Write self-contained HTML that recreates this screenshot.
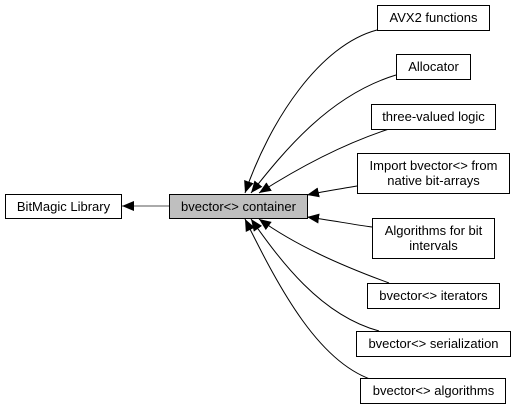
<!DOCTYPE html>
<html><head><meta charset="utf-8"><style>
html,body{margin:0;padding:0;background:#fff;}
svg{display:block;}
text{font-family:"Liberation Sans",Arial,sans-serif;font-size:13px;fill:#000;}
</style></head><body>
<svg width="516" height="412" viewBox="0 0 516 412" xmlns="http://www.w3.org/2000/svg">
<defs>
<marker id="a" markerWidth="12" markerHeight="10" refX="12" refY="5" orient="auto" markerUnits="userSpaceOnUse">
<path d="M0,0 L12,5 L0,10 z" fill="#000"/>
</marker>
</defs>
<g fill="none" stroke="#000" stroke-width="1">
<path d="M169,206 L122,206" stroke="#555" marker-end="url(#a)"/>
<path d="M377,30 C320,45 270,120 245,193" marker-end="url(#a)"/>
<path d="M396,75 C330,95 285,150 251,193" marker-end="url(#a)"/>
<path d="M389,129 C340,145 295,170 259,193" marker-end="url(#a)"/>
<path d="M357,186 C340,189 325,191 307,195" marker-end="url(#a)"/>
<path d="M372,227 C350,224 330,220 307,217" marker-end="url(#a)"/>
<path d="M389,283 C340,265 295,245 259,219" marker-end="url(#a)"/>
<path d="M379,331 C320,315 280,260 251,219" marker-end="url(#a)"/>
<path d="M376,381 C320,365 280,290 245,219" marker-end="url(#a)"/>
</g>
<g stroke-width="1">
<rect x="377.5" y="5.5" width="112" height="25" fill="#fff" stroke="#000"/>
<rect x="396.5" y="54.5" width="74" height="25" fill="#fff" stroke="#000"/>
<rect x="371.5" y="104.5" width="124" height="25" fill="#fff" stroke="#000"/>
<rect x="357.5" y="153.5" width="152" height="40" fill="#fff" stroke="#000"/>
<rect x="5.5" y="194.5" width="116" height="24" fill="#fff" stroke="#000"/>
<rect x="169.5" y="194.5" width="138" height="24" fill="#bfbfbf" stroke="#000"/>
<rect x="372.5" y="218.5" width="122" height="40" fill="#fff" stroke="#000"/>
<rect x="367.5" y="283.5" width="132" height="25" fill="#fff" stroke="#000"/>
<rect x="356.5" y="331.5" width="154" height="25" fill="#fff" stroke="#000"/>
<rect x="360.5" y="378.5" width="145" height="25" fill="#fff" stroke="#000"/>
</g>
<g text-anchor="middle">
<text x="433.5" y="22">AVX2 functions</text>
<text x="433.5" y="71">Allocator</text>
<text x="433.5" y="121">three-valued logic</text>
<text x="433.5" y="170">Import bvector&lt;&gt; from</text>
<text x="433.5" y="185">native bit-arrays</text>
<text x="63.5" y="211">BitMagic Library</text>
<text x="238.5" y="211">bvector&lt;&gt; container</text>
<text x="433.5" y="235">Algorithms for bit</text>
<text x="433.5" y="250">intervals</text>
<text x="433.5" y="300">bvector&lt;&gt; iterators</text>
<text x="433.5" y="348">bvector&lt;&gt; serialization</text>
<text x="433.5" y="395">bvector&lt;&gt; algorithms</text>
</g>
</svg>
</body></html>
